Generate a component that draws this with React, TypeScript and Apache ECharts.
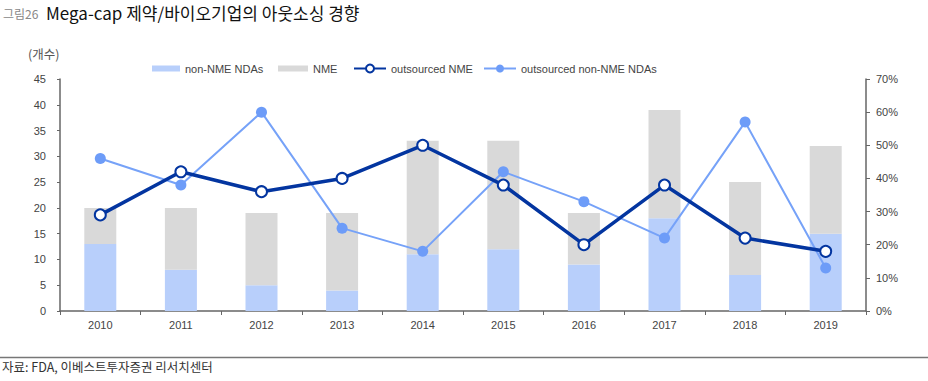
import React, { useEffect, useRef } from "react";
import * as echarts from "echarts";

const years = ["2010", "2011", "2012", "2013", "2014", "2015", "2016", "2017", "2018", "2019"];
const nonNmeNdas = [13, 8, 5, 4, 11, 12, 9, 18, 7, 15];
const nme = [7, 12, 14, 15, 22, 21, 10, 21, 18, 17];
const outsourcedNme = [29, 42, 36, 40, 50, 38, 20, 38, 22, 18];
const outsourcedNonNme = [46, 38, 60, 25, 18, 42, 33, 22, 57, 13];
const leftTicks = [0, 45, 5];
const rightTicks = [0, 70, 10];

const FONT = "'Liberation Sans Narrow', 'Liberation Sans', Arial, 'Noto Sans CJK KR', sans-serif";
const KFONT = "'Noto Sans CJK KR', 'Liberation Sans', sans-serif";

export default function App() {
  const ref = useRef<HTMLDivElement>(null);
  useEffect(() => {
    document.body.style.margin = "0";
    const chart = echarts.init(ref.current!, null, { renderer: "svg" });
    const legendText = { fontFamily: FONT, fontSize: 11, color: "#444" };
    chart.setOption({
      animation: false,
      backgroundColor: "#fff",
      textStyle: { fontFamily: FONT },
      grid: { left: 60, right: 62, top: 79, bottom: 70 },
      legend: [
        { data: [{ name: "non-NME NDAs", icon: "rect" }], left: 147, top: 58, itemWidth: 28, itemHeight: 6, textStyle: legendText },
        { data: [{ name: "NME", icon: "rect" }], left: 273, top: 58, itemWidth: 30, itemHeight: 6, textStyle: legendText },
        { data: ["outsourced NME"], left: 348, top: 58, itemWidth: 32, itemHeight: 10, textStyle: legendText },
        { data: ["outsourced non-NME NDAs"], left: 478, top: 58, itemWidth: 32, itemHeight: 10, textStyle: legendText },
      ],
      xAxis: {
        type: "category",
        data: years,
        axisLine: { lineStyle: { color: "#666", width: 1.5 } },
        axisTick: { show: true, length: 4, lineStyle: { color: "#666" } },
        axisLabel: { color: "#444", fontSize: 11, margin: 8, fontFamily: FONT },
      },
      yAxis: [
        {
          type: "value",
          min: leftTicks[0],
          max: leftTicks[1],
          interval: leftTicks[2],
          splitLine: { show: false },
          axisLine: { show: true, lineStyle: { color: "#666", width: 1.5 } },
          axisTick: { show: true, length: 3, lineStyle: { color: "#666" } },
          axisLabel: { color: "#444", fontSize: 11, margin: 14, fontFamily: FONT },
        },
        {
          type: "value",
          min: rightTicks[0],
          max: rightTicks[1],
          interval: rightTicks[2],
          position: "right",
          splitLine: { show: false },
          axisLine: { show: true, lineStyle: { color: "#666", width: 1.5 } },
          axisTick: { show: true, length: 4, lineStyle: { color: "#666" } },
          axisLabel: { color: "#444", fontSize: 11, margin: 10, formatter: "{value}%", fontFamily: FONT },
        },
      ],
      series: [
        {
          name: "non-NME NDAs",
          type: "bar",
          stack: "a",
          barWidth: 32,
          data: nonNmeNdas,
          itemStyle: { color: "#b8cffb" },
        },
        {
          name: "NME",
          type: "bar",
          stack: "a",
          barWidth: 32,
          data: nme,
          itemStyle: { color: "#d9d9d9" },
        },
        {
          name: "outsourced non-NME NDAs",
          type: "line",
          yAxisIndex: 1,
          data: outsourcedNonNme,
          symbol: "circle",
          symbolSize: 11,
          lineStyle: { color: "#76a2f8", width: 2 },
          itemStyle: { color: "#6d9cf8" },
        },
        {
          name: "outsourced NME",
          type: "line",
          yAxisIndex: 1,
          data: outsourcedNme,
          symbol: "circle",
          symbolSize: 11,
          lineStyle: { color: "#0335a0", width: 3.5 },
          itemStyle: { color: "#ffffff", borderColor: "#0335a0", borderWidth: 2 },
        },
      ],
      graphic: [
        { type: "text", left: 3, top: 7, style: { text: "그림26", fontFamily: KFONT, fontSize: 12, fill: "#888" } },
        { type: "text", left: 46, top: 4, style: { text: "Mega-cap 제약/바이오기업의 아웃소싱 경향", fontFamily: KFONT, fontSize: 17, fontWeight: "normal", fill: "#111" } },
        { type: "text", left: 28, top: 47, style: { text: "(개수)", fontFamily: KFONT, fontSize: 12.5, fill: "#555" } },
        { type: "line", shape: { x1: 0, y1: 357.5, x2: 928, y2: 357.5 }, style: { stroke: "#777", lineWidth: 1.5 } },
        { type: "text", left: 2, top: 360, style: { text: "자료: FDA, 이베스트투자증권 리서치센터", fontFamily: KFONT, fontSize: 12.5, fill: "#333" } },
      ],
    });
    return () => chart.dispose();
  }, []);
  return <div ref={ref} style={{ width: 928, height: 381 }} />;
}
